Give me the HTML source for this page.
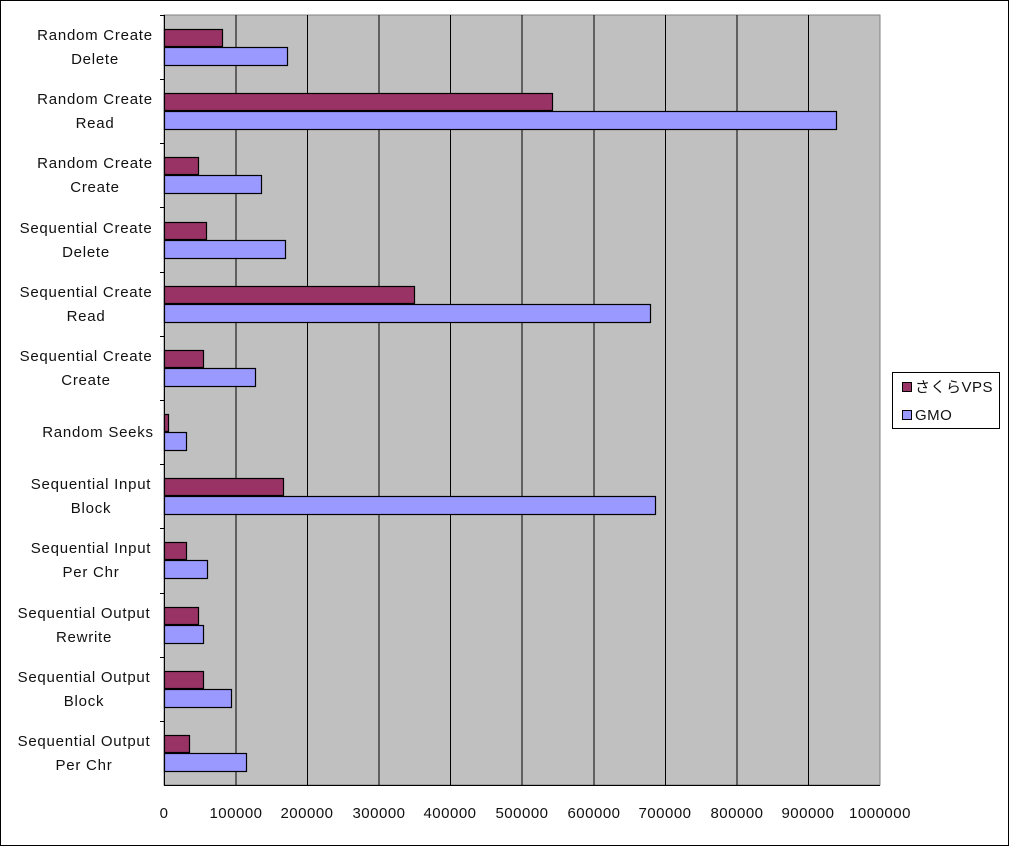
<!DOCTYPE html>
<html><head><meta charset="utf-8"><style>
html,body{margin:0;padding:0;background:#fff}
svg{display:block}
text{font-family:"Liberation Sans","Noto Sans CJK JP",sans-serif;font-size:15px;fill:#111;letter-spacing:0.5px}
.y text{letter-spacing:0.75px}
</style></head><body>
<svg width="1009" height="846" viewBox="0 0 1009 846" xmlns="http://www.w3.org/2000/svg">
<rect x="0.5" y="0.5" width="1008" height="845" fill="#fff" stroke="#000"/>
<rect x="164" y="15" width="716" height="770" fill="#c0c0c0" stroke="#808080"/>
<g stroke="#000" stroke-width="1">
<line x1="236" y1="15" x2="236" y2="785"/><line x1="307.5" y1="15" x2="307.5" y2="785"/>
<line x1="379" y1="15" x2="379" y2="785"/><line x1="450.5" y1="15" x2="450.5" y2="785"/>
<line x1="522" y1="15" x2="522" y2="785"/><line x1="594" y1="15" x2="594" y2="785"/>
<line x1="665.5" y1="15" x2="665.5" y2="785"/><line x1="737" y1="15" x2="737" y2="785"/>
<line x1="808.5" y1="15" x2="808.5" y2="785"/>
<line x1="164.5" y1="15" x2="164.5" y2="785"/>
<line x1="164" y1="785.5" x2="880" y2="785.5"/>
</g>
<g stroke="#000" stroke-width="1">
<line x1="160" y1="15.5" x2="164" y2="15.5"/><line x1="160" y1="79.5" x2="164" y2="79.5"/>
<line x1="160" y1="143.5" x2="164" y2="143.5"/><line x1="160" y1="207.5" x2="164" y2="207.5"/>
<line x1="160" y1="272.5" x2="164" y2="272.5"/><line x1="160" y1="336.5" x2="164" y2="336.5"/>
<line x1="160" y1="400.5" x2="164" y2="400.5"/><line x1="160" y1="464.5" x2="164" y2="464.5"/>
<line x1="160" y1="528.5" x2="164" y2="528.5"/><line x1="160" y1="593.5" x2="164" y2="593.5"/>
<line x1="160" y1="657.5" x2="164" y2="657.5"/><line x1="160" y1="721.5" x2="164" y2="721.5"/>
</g>
<g stroke="#000" stroke-width="1.2">
<rect x="164.5" y="29.5" width="58" height="17" fill="#993366"/><rect x="164.5" y="47.5" width="123" height="18" fill="#9999ff"/>
<rect x="164.5" y="93.5" width="388" height="17" fill="#993366"/><rect x="164.5" y="111.5" width="672" height="18" fill="#9999ff"/>
<rect x="164.5" y="157.5" width="34" height="17" fill="#993366"/><rect x="164.5" y="175.5" width="97" height="18" fill="#9999ff"/>
<rect x="164.5" y="222.5" width="42" height="17" fill="#993366"/><rect x="164.5" y="240.5" width="121" height="18" fill="#9999ff"/>
<rect x="164.5" y="286.5" width="250" height="17" fill="#993366"/><rect x="164.5" y="304.5" width="486" height="18" fill="#9999ff"/>
<rect x="164.5" y="350.5" width="39" height="17" fill="#993366"/><rect x="164.5" y="368.5" width="91" height="18" fill="#9999ff"/>
<rect x="164.5" y="414.5" width="4" height="17" fill="#993366"/><rect x="164.5" y="432.5" width="22" height="18" fill="#9999ff"/>
<rect x="164.5" y="478.5" width="119" height="17" fill="#993366"/><rect x="164.5" y="496.5" width="491" height="18" fill="#9999ff"/>
<rect x="164.5" y="542.5" width="22" height="17" fill="#993366"/><rect x="164.5" y="560.5" width="43" height="18" fill="#9999ff"/>
<rect x="164.5" y="607.5" width="34" height="17" fill="#993366"/><rect x="164.5" y="625.5" width="39" height="18" fill="#9999ff"/>
<rect x="164.5" y="671.5" width="39" height="17" fill="#993366"/><rect x="164.5" y="689.5" width="67" height="18" fill="#9999ff"/>
<rect x="164.5" y="735.5" width="25" height="17" fill="#993366"/><rect x="164.5" y="753.5" width="82" height="18" fill="#9999ff"/>
</g>
<g text-anchor="middle" class="y">
<text x="95" y="40">Random Create</text><text x="95" y="64">Delete</text>
<text x="95" y="104">Random Create</text><text x="95" y="128">Read</text>
<text x="95" y="168">Random Create</text><text x="95" y="192">Create</text>
<text x="86" y="233">Sequential Create</text><text x="86" y="257">Delete</text>
<text x="86" y="297">Sequential Create</text><text x="86" y="321">Read</text>
<text x="86" y="361">Sequential Create</text><text x="86" y="385">Create</text>
<text x="98" y="437">Random Seeks</text>
<text x="91" y="489">Sequential Input</text><text x="91" y="513">Block</text>
<text x="91" y="553">Sequential Input</text><text x="91" y="577">Per Chr</text>
<text x="84" y="618">Sequential Output</text><text x="84" y="642">Rewrite</text>
<text x="84" y="682">Sequential Output</text><text x="84" y="706">Block</text>
<text x="84" y="746">Sequential Output</text><text x="84" y="770">Per Chr</text>
</g>
<g text-anchor="middle">
<text x="164" y="818">0</text><text x="236" y="818">100000</text><text x="307" y="818">200000</text>
<text x="379" y="818">300000</text><text x="450" y="818">400000</text><text x="522" y="818">500000</text>
<text x="594" y="818">600000</text><text x="665" y="818">700000</text><text x="737" y="818">800000</text>
<text x="808" y="818">900000</text><text x="880" y="818">1000000</text>
</g>
<rect x="892.5" y="372.5" width="107" height="56" fill="#fff" stroke="#000"/>
<rect x="902.5" y="382.5" width="9" height="9" fill="#993366" stroke="#000"/>
<rect x="902.5" y="410.5" width="9" height="9" fill="#9999ff" stroke="#000"/>
<text x="915" y="392">さくらVPS</text>
<text x="915" y="420">GMO</text>
</svg>
</body></html>
